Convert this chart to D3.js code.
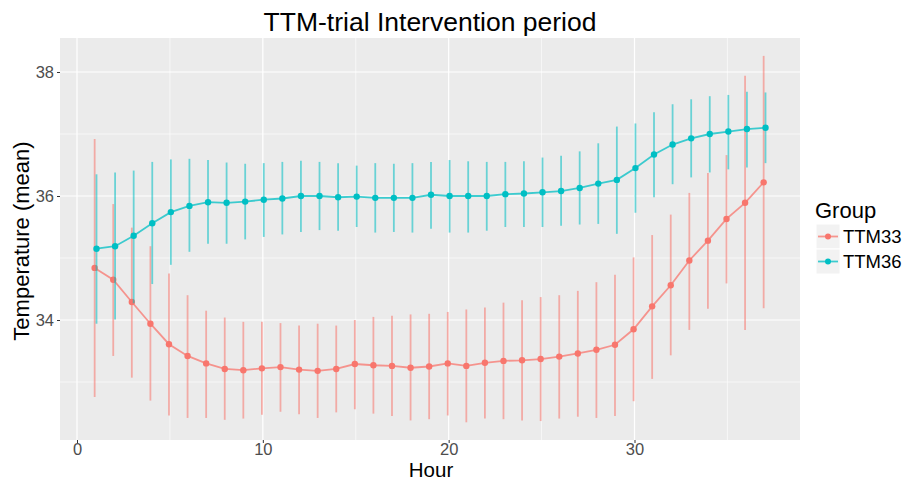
<!DOCTYPE html>
<html>
<head>
<meta charset="utf-8">
<script src="https://cdn.jsdelivr.net/npm/d3@7"></script>
<style>
  body { margin: 0; background: #fff; }
  text { font-family: "Liberation Sans", Arial, sans-serif; }
</style>
</head>
<body>
<svg id="chart" width="903" height="481"></svg>
<script>
const hours = d3.range(1, 38)

const groups = ["TTM33", "TTM36"]
const colors = ["#F8766D", "#00BFC4"]

// TTM33 mean, upper, lower
const ttm33Mean = [34.84, 34.65, 34.29, 33.94, 33.61, 33.42, 33.30, 33.21, 33.19, 33.22, 33.24, 33.20,
  33.18, 33.21, 33.29, 33.27, 33.26, 33.23, 33.25, 33.30, 33.26, 33.31, 33.34, 33.35, 33.37,
  33.41, 33.46, 33.52, 33.60, 33.85, 34.22, 34.56, 34.96, 35.28, 35.63, 35.89, 36.22]
const ttm33Hi = [36.92, 35.87, 35.49, 35.19, 34.75, 34.40, 34.15, 34.04, 33.97, 33.97, 33.95, 33.91,
  33.94, 33.91, 34.00, 34.05, 34.07, 34.09, 34.10, 34.13, 34.17, 34.20, 34.28, 34.32, 34.37,
  34.40, 34.47, 34.61, 34.73, 35.01, 35.37, 35.70, 36.05, 36.37, 36.66, 37.94, 38.26]
const ttm33Lo = [32.76, 33.42, 33.07, 32.70, 32.46, 32.42, 32.42, 32.39, 32.41, 32.47, 32.52, 32.48,
  32.42, 32.51, 32.56, 32.49, 32.45, 32.38, 32.40, 32.46, 32.35, 32.41, 32.40, 32.38, 32.37,
  32.41, 32.44, 32.42, 32.45, 32.69, 33.05, 33.43, 33.84, 34.18, 34.59, 33.84, 34.19]

// TTM36 mean, upper, lower
const ttm36Mean = [35.15, 35.19, 35.36, 35.56, 35.74, 35.84, 35.90, 35.89, 35.91, 35.94, 35.96, 36.00,
  36.00, 35.98, 35.99, 35.97, 35.97, 35.97, 36.02, 36.00, 36.00, 36.00, 36.03, 36.04, 36.06,
  36.08, 36.13, 36.20, 36.26, 36.45, 36.67, 36.83, 36.93, 37.00, 37.04, 37.08, 37.10]
const ttm36Hi = [36.35, 36.38, 36.41, 36.55, 36.59, 36.60, 36.58, 36.54, 36.52, 36.53, 36.55, 36.57,
  36.55, 36.53, 36.49, 36.53, 36.52, 36.53, 36.55, 36.58, 36.56, 36.55, 36.55, 36.56, 36.62,
  36.65, 36.72, 36.85, 37.12, 37.17, 37.35, 37.48, 37.56, 37.61, 37.63, 37.68, 37.67]
const ttm36Lo = [33.94, 34.01, 34.27, 34.58, 34.89, 35.10, 35.23, 35.23, 35.30, 35.34, 35.38, 35.42,
  35.45, 35.44, 35.50, 35.41, 35.42, 35.41, 35.47, 35.41, 35.41, 35.44, 35.50, 35.50, 35.50,
  35.52, 35.54, 35.55, 35.39, 35.73, 35.98, 36.19, 36.30, 36.38, 36.43, 36.46, 36.53]

const xTicks = [0, 10, 20, 30]
const yTicks = [34, 36, 38]

const series = [
  { name: groups[0], color: colors[0], mean: ttm33Mean, hi: ttm33Hi, lo: ttm33Lo, dodge: -0.05 },
  { name: groups[1], color: colors[1], mean: ttm36Mean, hi: ttm36Hi, lo: ttm36Lo, dodge: 0.05 }
]

const svg = d3.select("#chart")
const panel = { left: 60, top: 38, right: 800, bottom: 440 }

const x = d3.scaleLinear().domain([0, 30]).range([77, 634.5])
const y = d3.scaleLinear().domain([34, 38]).range([320, 72])

// panel background
svg.append("rect")
  .attr("x", panel.left).attr("y", panel.top)
  .attr("width", panel.right - panel.left).attr("height", panel.bottom - panel.top)
  .attr("fill", "#ebebeb")

// minor grid
const g = svg.append("g")
d3.range(5, 40, 10).forEach(v => {
  if (x(v) > panel.right) return
  g.append("line").attr("x1", x(v)).attr("x2", x(v)).attr("y1", panel.top).attr("y2", panel.bottom)
    .attr("stroke", "#fff").attr("stroke-width", 0.6)
})
;[33, 35, 37].forEach(v => {
  g.append("line").attr("y1", y(v)).attr("y2", y(v)).attr("x1", panel.left).attr("x2", panel.right)
    .attr("stroke", "#fff").attr("stroke-width", 0.6)
})
// major grid
xTicks.forEach(v => {
  g.append("line").attr("x1", x(v)).attr("x2", x(v)).attr("y1", panel.top).attr("y2", panel.bottom)
    .attr("stroke", "#fff").attr("stroke-width", 1.2)
})
yTicks.forEach(v => {
  g.append("line").attr("y1", y(v)).attr("y2", y(v)).attr("x1", panel.left).attr("x2", panel.right)
    .attr("stroke", "#fff").attr("stroke-width", 1.2)
})

// axes
const xAxis = svg.append("g")
  .attr("transform", `translate(0,${panel.bottom})`)
  .call(d3.axisBottom(x).tickValues(xTicks).tickFormat(d3.format("d")).tickSize(3).tickPadding(0))
const yAxis = svg.append("g")
  .attr("transform", `translate(${panel.left},0)`)
  .call(d3.axisLeft(y).tickValues(yTicks).tickFormat(d3.format("d")).tickSize(3).tickPadding(3))
;[xAxis, yAxis].forEach(a => {
  a.select(".domain").remove()
  a.selectAll(".tick line").attr("stroke", "#333")
  a.selectAll(".tick text").attr("fill", "#4d4d4d").style("font-size", "16.5px")
    .style("font-family", "'Liberation Sans', Arial, sans-serif")
})

// data
series.forEach(s => {
  const pts = hours.map((h, i) => ({ h: h + s.dodge, m: s.mean[i], hi: s.hi[i], lo: s.lo[i] }))
  const sg = svg.append("g")
  sg.selectAll("line.err").data(pts).enter().append("line")
    .attr("x1", d => x(d.h)).attr("x2", d => x(d.h))
    .attr("y1", d => y(d.hi)).attr("y2", d => y(d.lo))
    .attr("stroke", s.color).attr("stroke-width", 1.8).attr("opacity", 0.55)
  sg.append("path")
    .datum(pts)
    .attr("d", d3.line().x(d => x(d.h)).y(d => y(d.m)))
    .attr("fill", "none").attr("stroke", s.color).attr("stroke-width", 1.8).attr("opacity", 0.75)
  sg.selectAll("circle").data(pts).enter().append("circle")
    .attr("cx", d => x(d.h)).attr("cy", d => y(d.m)).attr("r", 3.2)
    .attr("fill", s.color)
})

// titles
svg.append("text").attr("x", 430).attr("y", 31).attr("text-anchor", "middle")
  .style("font-size", "26.5px").attr("fill", "#000").text("TTM-trial Intervention period")
svg.append("text").attr("x", 431).attr("y", 476.5).attr("text-anchor", "middle")
  .style("font-size", "20.5px").attr("fill", "#000").text("Hour")
svg.append("text").attr("transform", `translate(29,241) rotate(-90)`).attr("text-anchor", "middle")
  .style("font-size", "22px").attr("fill", "#000").text("Temperature (mean)")

// legend
const lg = svg.append("g")
lg.append("text").attr("x", 815).attr("y", 218).style("font-size", "22px").attr("fill", "#000").text("Group")
series.forEach((s, i) => {
  const ky = 224 + i * 25
  lg.append("rect").attr("x", 816).attr("y", ky).attr("width", 24).attr("height", 25)
    .attr("fill", "#f2f2f2").attr("stroke", "#fff").attr("stroke-width", 1)
  lg.append("line").attr("x1", 818).attr("x2", 838).attr("y1", ky + 12.5).attr("y2", ky + 12.5)
    .attr("stroke", s.color).attr("stroke-width", 1.8).attr("opacity", 0.75)
  lg.append("circle").attr("cx", 828).attr("cy", ky + 12.5).attr("r", 3).attr("fill", s.color)
  lg.append("text").attr("x", 843).attr("y", ky + 19).style("font-size", "18.5px").attr("fill", "#000").text(s.name)
})
</script>
</body>
</html>
